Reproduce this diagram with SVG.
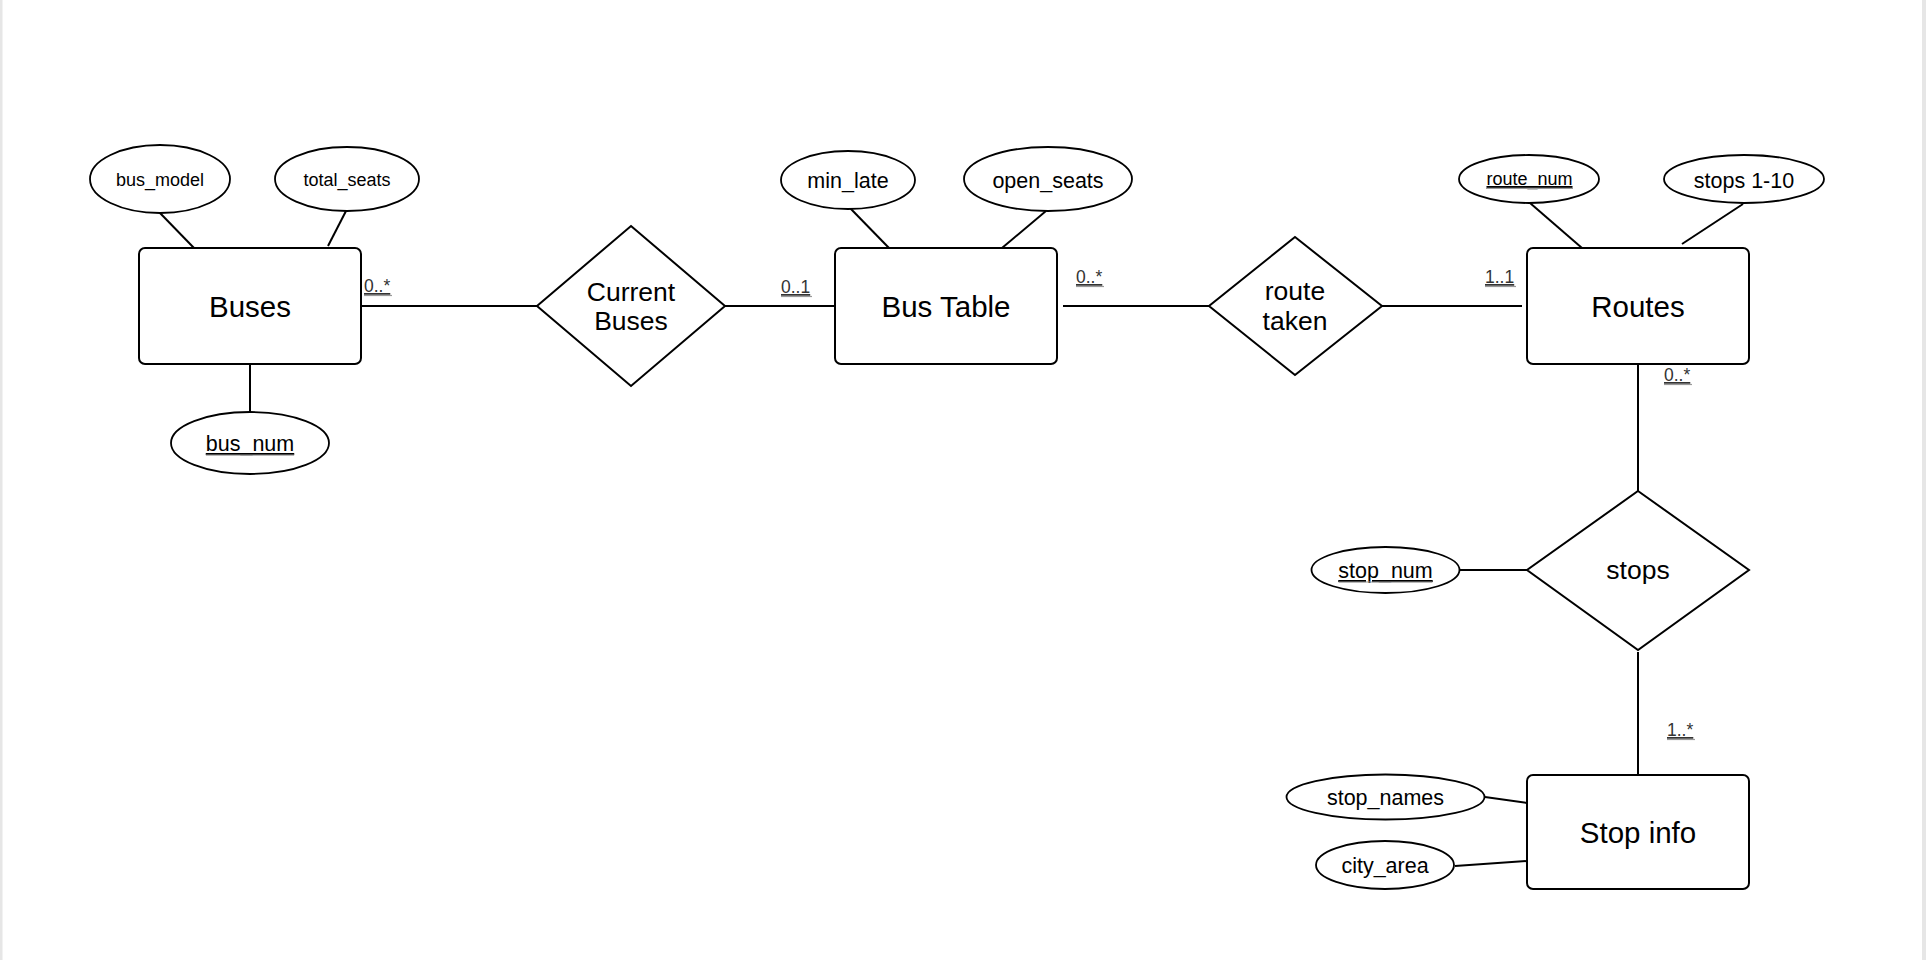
<svg xmlns="http://www.w3.org/2000/svg" width="1926" height="960" viewBox="0 0 1926 960">
<style>
text{font-family:"Liberation Sans",Arial,sans-serif;fill:#000}
.ent{fill:#fff;stroke:#000;stroke-width:2}
.rel{fill:#fff;stroke:#000;stroke-width:2}
.att{fill:#fff;stroke:#000;stroke-width:1.8}
.conn line{stroke:#000;stroke-width:2}
.et{font-size:29.5px;text-anchor:middle}
.rt{font-size:26.5px;text-anchor:middle}
.at{font-size:21.5px;text-anchor:middle}
.as{font-size:18px;text-anchor:middle}
.key{text-decoration:underline}
.card{font-size:17.5px;fill:#333;text-decoration:underline}
.ul2{stroke:#999;stroke-width:1.2}
</style>
<rect x="0" y="0" width="1926" height="960" fill="#fff"/>
<rect x="0" y="0" width="2.5" height="960" fill="#e6e6e6"/>
<rect x="1922" y="0" width="4" height="960" fill="#e6e6e6"/>

<g id="connectors" class="conn">
<line x1="160" y1="213" x2="194" y2="248"/>
<line x1="346" y1="211" x2="328" y2="246"/>
<line x1="250" y1="364" x2="250" y2="412"/>
<line x1="361" y1="306" x2="537" y2="306"/>
<line x1="725" y1="306" x2="835" y2="306"/>
<line x1="850" y1="208" x2="889" y2="248"/>
<line x1="1046" y1="211" x2="1002" y2="248"/>
<line x1="1063" y1="306" x2="1209" y2="306"/>
<line x1="1382" y1="306" x2="1522" y2="306"/>
<line x1="1530" y1="203" x2="1582" y2="248"/>
<line x1="1743" y1="204" x2="1682" y2="244"/>
<line x1="1638" y1="364" x2="1638" y2="491"/>
<line x1="1460" y1="570" x2="1527" y2="570"/>
<line x1="1638" y1="652" x2="1638" y2="775"/>
<line x1="1485" y1="797" x2="1527" y2="803"/>
<line x1="1455" y1="866" x2="1527" y2="861"/>
</g>

<g id="cardinalities">
<text class="card" x="364" y="292">0..*</text>
<line class="ul2" x1="364" y1="295.5" x2="392" y2="295.5"/>
<text class="card" x="781" y="293">0..1</text>
<line class="ul2" x1="781" y1="296.5" x2="812" y2="296.5"/>
<text class="card" x="1076" y="283">0..*</text>
<line class="ul2" x1="1076" y1="286.5" x2="1104" y2="286.5"/>
<text class="card" x="1485" y="283">1..1</text>
<line class="ul2" x1="1485" y1="286.5" x2="1516" y2="286.5"/>
<text class="card" x="1664" y="381">0..*</text>
<line class="ul2" x1="1664" y1="384.5" x2="1692" y2="384.5"/>
<text class="card" x="1667" y="736">1..*</text>
<line class="ul2" x1="1667" y1="739.5" x2="1695" y2="739.5"/>
</g>

<g id="buses">
<rect class="ent" x="139" y="248" width="222" height="116" rx="6"/>
<text class="et" x="250" y="317">Buses</text>
</g>
<g id="bus_model">
<ellipse class="att" cx="160" cy="179" rx="70" ry="34"/>
<text class="as" x="160" y="185.5">bus_model</text>
</g>
<g id="total_seats">
<ellipse class="att" cx="347" cy="179" rx="72" ry="32"/>
<text class="as" x="347" y="185.5">total_seats</text>
</g>
<g id="bus_num">
<ellipse class="att" cx="250" cy="443" rx="79" ry="31"/>
<text class="at key" x="250" y="451">bus_num</text>
<line class="ul2" x1="206" y1="455" x2="294" y2="455"/>
</g>

<g id="current_buses">
<polygon class="rel" points="631,226 725,306 631,386 537,306"/>
<text class="rt" x="631" y="301">Current</text>
<text class="rt" x="631" y="330">Buses</text>
</g>

<g id="bus_table">
<rect class="ent" x="835" y="248" width="222" height="116" rx="6"/>
<text class="et" x="946" y="317">Bus Table</text>
</g>
<g id="min_late">
<ellipse class="att" cx="848" cy="180" rx="67" ry="29"/>
<text class="at" x="848" y="188">min_late</text>
</g>
<g id="open_seats">
<ellipse class="att" cx="1048" cy="179" rx="84" ry="32"/>
<text class="at" x="1048" y="188">open_seats</text>
</g>

<g id="route_taken">
<polygon class="rel" points="1295,237 1382,306 1295,375 1209,306"/>
<text class="rt" x="1295" y="300">route</text>
<text class="rt" x="1295" y="330">taken</text>
</g>

<g id="routes">
<rect class="ent" x="1527" y="248" width="222" height="116" rx="6"/>
<text class="et" x="1638" y="317">Routes</text>
</g>
<g id="route_num">
<ellipse class="att" cx="1529" cy="179" rx="70" ry="24"/>
<text class="as key" x="1529.5" y="185">route_num</text>
<line class="ul2" x1="1486" y1="188.5" x2="1573" y2="188.5"/>
</g>
<g id="stops_1_10">
<ellipse class="att" cx="1744" cy="179" rx="80" ry="24"/>
<text class="at" x="1744" y="188">stops 1-10</text>
</g>

<g id="stops">
<polygon class="rel" points="1638,491 1749,570 1638,650 1527,570"/>
<text class="rt" x="1638" y="579">stops</text>
</g>
<g id="stop_num">
<ellipse class="att" cx="1385.5" cy="570" rx="74" ry="23"/>
<text class="at key" x="1385.5" y="578">stop_num</text>
<line class="ul2" x1="1339" y1="582" x2="1432" y2="582"/>
</g>

<g id="stop_info">
<rect class="ent" x="1527" y="775" width="222" height="114" rx="6"/>
<text class="et" x="1638" y="843">Stop info</text>
</g>
<g id="stop_names">
<ellipse class="att" cx="1385.5" cy="797" rx="99" ry="22.5"/>
<text class="at" x="1385.5" y="805">stop_names</text>
</g>
<g id="city_area">
<ellipse class="att" cx="1385" cy="865" rx="69" ry="24"/>
<text class="at" x="1385" y="873">city_area</text>
</g>
</svg>
